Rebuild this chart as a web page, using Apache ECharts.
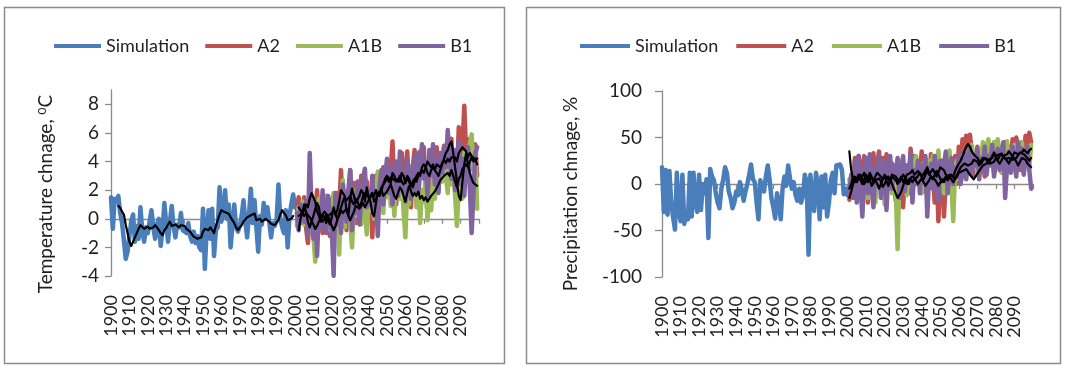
<!DOCTYPE html>
<html>
<head>
<meta charset="utf-8">
<script src="https://cdn.jsdelivr.net/npm/echarts@6/dist/echarts.min.js"></script>
<style>
  html, body { margin: 0; padding: 0; background: #ffffff; }
  #chart { width: 1066px; height: 366px; }
</style>
</head>
<body>
<div id="chart"></div>
<script>
// ---- Temperature change (°C) ----
const simTempStart = 1900;
const simTemp = [
  1.5, -0.7, 1.4, 1.2, 1.6, 0.4, -0.3, -1.5, -2.8, -2.3,
  -1.2, -0.2, 0.3, -1.6, -0.5, -1.4, 0.8, -0.8, -1.6, -0.6,
  -1.0, -0.2, 0.6, -0.6, -1.4, -0.4, 0.0, -1.9, -0.8, 1.1,
  -0.3, -1.6, -0.2, 0.9, -0.5, -1.3, -0.4, -0.6, 0.4, -0.8,
  -0.8, -1.0, -0.3, -1.2, -1.6, -0.9, -1.7, -1.2, -2.0, -2.2,
  0.7, -3.5, -0.8, 0.6, -1.4, 0.7, -2.6, -0.8, -0.6, 2.2,
  -0.2, 0.4, 2.0, 0.0, 1.0, -2.0, -0.5, 1.0, -0.6, -0.9,
  -0.5, 0.2, 1.3, -0.2, -1.3, 0.3, 2.1, -0.3, 1.3, -0.6,
  -2.3, 0.2, -0.4, 1.1, 0.0, 0.8, -0.2, -1.3, -0.3, -0.5,
  -0.1, 2.4, 0.0, -0.6, -1.0, 0.6, -2.0, 0.2, 1.0, 1.7,
  0.8
];
const simTempAvgStart = 1904;
const simTempAvg = [
  0.9, 0.75, 0.5, 0.3, -0.4, -1.0,
  -1.6, -1.9, -1.6, -1.3, -1.0, -0.7, -0.45, -0.5, -0.7, -0.6,
  -0.55, -0.7, -0.75, -0.6, -0.45, -0.6, -0.8, -1.0, -1.15, -0.8,
  -0.65, -0.4, -0.2, -0.5, -0.6, -0.4, -0.5, -0.6, -0.45, -0.35,
  -0.5, -0.7, -0.8, -0.9, -1.1, -1.25, -1.3, -1.4, -1.5, -1.3,
  -0.9, -0.7, -0.8, -0.8, -0.6, -0.8, -1.0, -0.5, -0.1, 0.3,
  0.6, 0.5, 0.45, 0.4, 0.35, 0.1, -0.1, -0.3, -0.6, -0.8,
  -0.6, -0.45, -0.2, -0.1, 0.1, 0.2, 0.25, 0.3, 0.37, -0.1,
  -0.15, 0.0, -0.2, -0.1, 0.0, -0.1, -0.2, -0.35, -0.3, -0.45,
  -0.55, -0.1, 0.3, 0.6, 0.4, 0.25, -0.1, -0.2, 0.0, 0.2
];
const scenarioStart = 2001;
const tempA2 = [
  0.6, 1.5, -0.3, 0.8, 1.5, -0.6, -1.7, 0.4, -0.8, 1.2,
  0.2, 2.0, -0.5, 0.5, -1.0, 1.0, -0.4, 0.3, -1.2, 1.4,
  0.2, -0.6, 1.8, 0.6, 3.4, 0.4, 1.9, -0.8, 1.2, 3.4,
  0.8, 2.5, -0.3, 2.2, 1.0, 3.0, 0.5, 1.8, 2.6, 0.4,
  2.0, -1.3, 1.6, 3.0, 0.6, 2.8, 1.2, 3.6, 2.0, 4.0,
  1.6, 3.4, 5.4, 2.2, 1.0, 3.8, 2.4, 4.6, 1.8, 3.2,
  4.7, 2.0, 0.8, 3.6, 4.8, 2.6, 1.2, 4.7, 3.0, 5.0,
  2.2, 0.4, 3.4, 4.6, 2.0, 3.8, 5.0, 2.8, 4.2, 3.0,
  5.1, 3.4, 2.4, 4.4, 5.6, 3.2, 4.8, 2.6, 6.4, 3.8,
  5.0, 7.9, 4.5, 3.2, 5.6, 3.5, 4.4, 5.2, 3.0
];
const tempA1B = [
  -0.5, 0.8, 0.2, 1.2, -0.4, 0.6, 1.0, -0.8, 0.4, -1.2,
  -3.0, 0.2, 1.4, -0.4, 0.8, -0.2, 1.6, 0.0, -0.8, 0.9,
  1.8, -0.4, 0.6, -2.5, 1.2, 2.7, -0.6, 0.8, 1.4, -0.2,
  -2.0, 1.0, 2.0, 0.2, 1.5, -0.4, 2.2, 0.8, -1.1, 1.8,
  0.6, 2.4, 0.0, 1.6, 3.3, 1.2, 2.6, 0.4, 3.0, 1.5,
  3.5, 0.9, 2.2, 0.2, 2.8, 4.0, 1.4, 3.0, 0.5, -1.3,
  2.4, 1.0, 3.2, 1.6, 2.6, 0.8, 3.6, -0.3, 2.0, 1.2,
  3.0, -0.1, 1.8, 0.6, 2.8, 1.4, 3.6, 2.0, 4.2, 2.6,
  5.0, 3.0, 1.8, 4.0, 2.4, 3.8, 1.6, -0.5, 2.2, 3.6,
  1.4, 4.6, 2.8, 4.0, 5.2, 5.9, 3.4, 4.8, 0.7
];
const tempB1 = [
  0.4, -0.8, 1.0, 0.2, -0.2, 1.2, -1.2, 4.6, 0.6, -1.4,
  1.0, -2.6, 0.8, -0.6, 2.0, 0.2, -1.0, 1.6, 0.4, -0.8,
  -4.0, 1.8, -0.4, 1.2, -1.0, 2.4, 0.6, -0.2, 2.0, 3.4,
  -0.8, 1.6, 0.4, 2.6, -0.4, 1.2, 2.8, 3.5, 0.8, 2.0,
  1.0, 3.0, 0.2, 1.6, -1.2, 2.4, 3.4, 1.0, 2.6, 4.2,
  1.8, 3.6, 1.0, 2.8, 4.0, 1.6, 4.7, 2.2, 3.0, 1.2,
  4.2, 2.6, 1.4, 3.8, 2.0, 4.6, 1.8, 3.4, 5.2, 2.8,
  4.0, 1.6, 4.8, 3.0, 5.2, 2.4, 4.0, 1.8, 4.6, 3.2,
  5.0, 3.6, 6.2, 4.4, 2.8, 4.8, 2.0, 3.6, 5.4, 2.4,
  4.2, 1.6, 3.8, 5.0, 2.2, -1.0, 1.8, 4.6, 5.0
];
const scenarioAvgStart = 2002;
const tempA2Avg = [
  0.8, 0.6, 0.4, 1.0, 0.5, -0.2, -0.6, -0.2, 0.2,
  0.7, 1.1, 0.8, 0.0, -0.2, 0.0, 0.3, -0.1, -0.4, 0.1,
  0.8, 0.3, 0.6, 1.2, 2.0, 1.9, 1.6, 0.6, 0.2, 1.5,
  2.1, 1.6, 1.1, 1.0, 1.6, 2.0, 1.8, 1.2, 2.2, 1.5,
  1.2, 0.4, 0.2, 1.1, 1.8, 1.7, 2.0, 2.4, 2.8, 3.0,
  2.8, 2.5, 3.2, 3.0, 2.6, 2.8, 2.6, 3.2, 3.0, 2.5,
  3.0, 2.8, 2.4, 2.2, 2.6, 3.0, 3.2, 3.0, 3.6, 3.8,
  3.6, 3.2, 3.0, 3.4, 3.6, 3.4, 3.8, 3.8, 3.6, 3.9,
  4.1, 3.9, 4.2, 4.0, 4.3, 4.4, 4.3, 4.0, 4.6, 4.8,
  5.0, 5.0, 4.7, 4.3, 4.6, 4.4, 4.2, 4.3, 4.2
];
const tempA1BAvg = [
  0.2, 0.3, 0.4, 0.2, 0.4, 0.3, 0.1, 0.0, -0.4,
  -0.7, -0.5, -0.2, 0.1, 0.2, 0.5, 0.4, 0.2, 0.3, 0.4,
  0.6, 0.3, 0.0, 0.2, 0.6, 0.4, 0.3, 0.7, 0.2, -0.1,
  0.2, 0.5, 0.9, 1.0, 0.7, 0.9, 1.1, 0.8, 0.7, 1.3,
  1.6, 1.8, 1.2, 1.4, 1.8, 1.6, 2.0, 1.6, 1.5, 1.9,
  2.0, 2.4, 2.0, 1.6, 1.4, 1.8, 2.2, 2.0, 1.6, 1.2,
  1.8, 2.3, 2.2, 1.6, 1.8, 1.6, 1.9, 1.4, 1.6, 1.3,
  1.5, 1.2, 1.3, 1.6, 1.5, 1.9, 1.8, 2.4, 2.7, 2.8,
  3.0, 2.9, 3.2, 3.0, 3.4, 3.0, 2.6, 2.2, 2.8, 3.0,
  3.5, 3.4, 3.8, 3.6, 4.0, 4.3, 4.0, 4.2, 3.8
];
const tempB1Avg = [
  -0.8, 0.0, 0.4, 0.6, 1.0, 0.8, 1.4, 1.8, 1.9,
  1.2, 0.5, 0.2, -0.2, 0.3, 0.1, -0.3, 0.2, -0.2, -0.5,
  -0.8, -0.5, -0.1, 0.4, 0.8, 1.2, 1.5, 1.3, 1.4, 1.6,
  1.2, 1.0, 1.4, 1.2, 0.8, 1.1, 1.6, 1.8, 1.6, 1.7,
  1.5, 1.8, 1.6, 2.0, 1.6, 1.8, 2.2, 2.4, 2.6, 2.8,
  2.6, 2.9, 3.0, 2.7, 2.8, 2.6, 3.0, 2.6, 2.4, 2.6,
  2.8, 2.6, 2.3, 2.6, 2.8, 2.6, 3.0, 3.2, 3.4, 3.2,
  3.6, 4.0, 3.8, 3.6, 3.8, 3.4, 3.2, 3.0, 3.4, 3.8,
  4.2, 4.6, 4.8, 5.2, 5.4, 4.6, 3.6, 2.6, 1.6, 1.3,
  2.6, 3.8, 4.6, 3.8, 3.2, 2.8, 2.5, 2.4, 2.3
];

// ---- Precipitation change (%) ----
const simPrecipStart = 1900;
const simPrecip = [
  18, -30, 15, -33, 14, -20, -36, -49, 12, -28,
  -40, 10, -43, -30, -38, 12, -35, 12, -20, -30,
  10, -28, 0, -10, 5, -58, 16, 8, 4, -10,
  -20, -26, -5, 5, 18, 12, -8, -15, -26, -20,
  -8, -12, 2, -6, -18, -8, 0, 10, 21, 5,
  2, -20, -38, 4, -4, -8, 8, 20, 5, -15,
  -25, -37, -10, -20, -38, -5, 8, -2, 20, 6,
  -5, 2, -12, -18, -5, -20, -12, 10, 2, -76,
  10, -12, -29, 12, 0, -38, 8, -25, 10, -35,
  -20, 4, 12, -10, 20, 18, 21, 15, -11, -5,
  -12
];
const precipA2 = [
  -17, 5, -10, 28, 0, 30, -5, 18, 30, 2,
  -20, 25, 8, 33, -10, 20, 35, 5, 28, -15,
  32, 10, -5, 22, 15, -18, 10, 25, 2, -25,
  20, 8, -10, 38, 15, 30, 0, 20, 10, 35,
  -8, 15, 25, 0, 32, 12, -20, 20, -40, 10,
  25, -35, 5, 18, -5, 25, 10, 30, 0, 40,
  15, 48, 30, 52, 20, 53, 35, 10, 28, 40,
  15, 35, 25, 8, 38, 20, 42, 30, 12, 45,
  28, 40, 18, 35, 45, 22, 40, 30, 48, 25,
  50, 35, 15, 45, 30, 52, 40, 55, 45
];
const precipA1B = [
  5, -10, 15, 0, 20, -5, 10, -30, 15, 5,
  -15, 20, 0, 12, -20, 8, 25, -5, 10, -22,
  15, 5, 20, -10, 12, -5, -70, 10, 25, 0,
  15, -12, 20, 5, -8, 18, 30, 0, 15, -10,
  22, 8, -5, 25, 10, 30, 0, 20, 36, 5,
  15, -10, 28, 10, 36, 0, -40, 15, 25, 5,
  20, 30, 8, 35, 15, 28, 42, 20, 35, 10,
  38, 25, 45, 15, 40, 48, 22, 35, 45, 20,
  48, 30, 12, 42, 25, 46, 18, 35, 28, 42,
  15, 38, 25, 45, 12, 30, 40, 18, 42
];
const precipB1 = [
  -8, 10, -15, 25, -20, 30, 5, -35, 15, 28,
  -10, 32, 0, -25, 18, 5, 30, -15, 10, 25,
  -28, 12, 30, -5, 20, 5, 28, -15, 10, 30,
  -8, 20, 8, 33, -20, 15, 0, 25, -10, 20,
  5, 30, -35, 10, 22, -5, 30, 15, -18, 25,
  5, 20, 35, -10, 12, 28, 0, 18, 8, 30,
  0, 15, 35, 5, 25, 40, 10, 30, 20, 38,
  5, 28, 15, 40, 10, 30, 20, 42, 8, 25,
  38, 15, 30, 45, -15, 20, 35, 12, 40, 22,
  8, 45, 20, 38, 10, 30, 40, 15, -5
];
const precipAvgStart = 2001;
const precipA2Avg = [
  35, 15, 5, 8, 3, 10, 5, 8, 12, 6,
  2, 8, 10, 4, 8, 12, 14, 8, 5, 10,
  12, 6, 2, 8, 10, 4, 0, 5, 8, 2,
  6, 10, 8, 12, 15, 10, 8, 14, 12, 8,
  10, 14, 18, 12, 8, 10, 5, 2, -2, 0,
  5, 2, 6, 8, 10, 12, 8, 14, 18, 22,
  25, 30, 35, 40, 43, 40, 35, 32, 30, 28,
  25, 22, 25, 28, 30, 26, 24, 28, 32, 30,
  26, 30, 33, 30, 28, 32, 35, 33, 30, 34,
  36, 32, 30, 34, 37, 35, 33, 36, 38
];
const precipA1BAvg = [
  -15, -8, 0, 5, 2, 6, 10, 5, 0, 3,
  8, 5, -2, 0, 4, 2, 6, 3, -3, 0,
  4, 8, 5, 0, -5, -10, -15, -12, -8, -2,
  3, 0, 5, 3, 8, 10, 6, 9, 12, 8,
  5, 10, 14, 10, 12, 16, 12, 8, 12, 18,
  20, 15, 10, 12, 8, 5, 2, 6, 10, 14,
  18, 20, 22, 24, 20, 18, 22, 26, 28, 24,
  20, 25, 28, 30, 26, 22, 26, 30, 34, 30,
  28, 32, 34, 30, 27, 25, 28, 30, 26, 24,
  28, 30, 34, 36, 32, 30, 28, 25, 28
];
const precipB1Avg = [
  -5, 0, 8, 2, 6, 10, 4, 0, 5, 10,
  6, 12, 8, 2, 5, 0, -5, 0, 5, 8,
  3, -2, 4, 10, 12, 8, 5, 2, 6, 10,
  8, 4, 0, 5, 2, 6, 4, 0, 3, 6,
  2, -2, 0, 4, 8, 5, 10, 14, 10, 6,
  2, 5, 8, 4, 6, 10, 8, 5, 8, 12,
  10, 14, 12, 16, 14, 10, 8, 5, 8, 10,
  14, 16, 20, 18, 22, 25, 22, 20, 24, 28,
  26, 22, 25, 30, 28, 25, 22, 26, 30, 28,
  24, 20, 24, 28, 30, 26, 22, 20, 18
];

// ---- Axis ticks and legend ----
const yearLabels = [1900, 1910, 1920, 1930, 1940, 1950, 1960, 1970, 1980, 1990,
                    2000, 2010, 2020, 2030, 2040, 2050, 2060, 2070, 2080, 2090];
const yearTicks = [1900, 1910, 1920, 1930, 1940, 1950, 1960, 1970, 1980, 1990,
                   2000, 2010, 2020, 2030, 2040, 2050, 2060, 2070, 2080, 2090, 2100];
const tempTicks = [-4, -2, 0, 2, 4, 6, 8];
const precipTicks = [-100, -50, 0, 50, 100];
const legendNames = ['Simulation', 'A2', 'A1B', 'B1'];

const FONT = 'Lato, "Liberation Sans", Arial, sans-serif';
const TEXT = '#1f1f1f';
const AXIS = '#8a8a8a';
const COLORS = { Simulation: '#4a7ebb', A2: '#c0504d', A1B: '#9bbb59', B1: '#8064a2' };

function pairs(start, values) {
  return values.map((v, i) => [start + i, v]);
}

function line(name, start, values, color, width, idx, z) {
  return {
    type: 'line', name: name, xAxisIndex: idx, yAxisIndex: idx,
    data: pairs(start, values), symbol: 'none', silent: true, z: z,
    lineStyle: { color: color, width: width, join: 'round', cap: 'round' },
    itemStyle: { color: color }
  };
}

function xAxis(idx) {
  return {
    type: 'value', gridIndex: idx, min: 1900, max: 2100, interval: 10,
    axisLine: { show: true, lineStyle: { color: AXIS, width: 1.3 } },
    axisTick: { show: true, length: 5, lineStyle: { color: AXIS, width: 1.3 }, customValues: yearTicks },
    axisLabel: { rotate: 90, margin: 19, fontSize: 18, fontFamily: FONT, color: TEXT,
      customValues: yearLabels, formatter: (v) => String(v) },
    splitLine: { show: false }
  };
}

function legend(left, itemWidth, itemGap, fontSize) {
  return {
    data: legendNames, left: left, top: 32, icon: 'rect',
    itemWidth: itemWidth, itemHeight: 4, itemGap: itemGap, selectedMode: false,
    textStyle: { fontSize: fontSize, fontFamily: FONT, color: TEXT }
  };
}

const chart = echarts.init(document.getElementById('chart'), null, { renderer: 'canvas' });

chart.setOption({
  animation: false,
  backgroundColor: '#ffffff',
  graphic: [
    { type: 'rect', shape: { x: 4.5, y: 7.5, width: 500, height: 356 },
      style: { fill: 'none', stroke: '#8c8c8c', lineWidth: 1.5 }, silent: true },
    { type: 'rect', shape: { x: 526.5, y: 7.5, width: 534, height: 356 },
      style: { fill: 'none', stroke: '#8c8c8c', lineWidth: 1.5 }, silent: true }
  ],
  legend: [legend(49, 47, 16, 18), legend(575, 50, 18, 18)],
  grid: [
    { left: 111, top: 90, width: 368, height: 186 },
    { left: 662, top: 91, width: 371, height: 186 }
  ],
  xAxis: [xAxis(0), xAxis(1)],
  yAxis: [
    {
      type: 'value', gridIndex: 0, min: -4, max: 9,
      name: 'Temperature chnage, {sup|0}C',
      nameLocation: 'middle', nameRotate: 90, nameGap: 56,
      nameTextStyle: { fontSize: 19, fontFamily: FONT, color: TEXT, padding: [0, 22, 0, 0],
        rich: { sup: { fontSize: 12, fontFamily: FONT, color: TEXT, verticalAlign: 'top', padding: [0, 0, 6, 0] } } },
      axisLine: { show: true, lineStyle: { color: AXIS, width: 1.3 } },
      axisTick: { show: true, length: 6, lineStyle: { color: AXIS, width: 1.3 }, customValues: tempTicks },
      axisLabel: { margin: 12, fontSize: 19, fontFamily: FONT, color: TEXT, customValues: tempTicks },
      splitLine: { show: false }
    },
    {
      type: 'value', gridIndex: 1, min: -100, max: 100, interval: 50,
      name: 'Precipitation chnage, %',
      nameLocation: 'middle', nameRotate: 90, nameGap: 82,
      nameTextStyle: { fontSize: 19, fontFamily: FONT, color: TEXT, padding: [0, 20, 0, 0] },
      axisLine: { show: true, lineStyle: { color: AXIS, width: 1.3 } },
      axisTick: { show: true, length: 7, lineStyle: { color: AXIS, width: 1.3 }, customValues: precipTicks },
      axisLabel: { margin: 20, fontSize: 19, fontFamily: FONT, color: TEXT, customValues: precipTicks },
      splitLine: { show: false }
    }
  ],
  series: [
    line('Simulation', simTempStart, simTemp, COLORS.Simulation, 4.5, 0, 2),
    line('A2', scenarioStart, tempA2, COLORS.A2, 4.5, 0, 3),
    line('A1B', scenarioStart, tempA1B, COLORS.A1B, 4.5, 0, 4),
    line('B1', scenarioStart, tempB1, COLORS.B1, 4.5, 0, 5),
    line('Simulation trend', simTempAvgStart, simTempAvg, '#000000', 2.2, 0, 6),
    line('A2 trend', scenarioAvgStart, tempA2Avg, '#000000', 2.2, 0, 6),
    line('A1B trend', scenarioAvgStart, tempA1BAvg, '#000000', 2.2, 0, 6),
    line('B1 trend', scenarioAvgStart, tempB1Avg, '#000000', 2.2, 0, 6),

    line('Simulation', simPrecipStart, simPrecip, COLORS.Simulation, 4.5, 1, 2),
    line('A2', scenarioStart, precipA2, COLORS.A2, 4.5, 1, 3),
    line('A1B', scenarioStart, precipA1B, COLORS.A1B, 4.5, 1, 4),
    line('B1', scenarioStart, precipB1, COLORS.B1, 4.5, 1, 5),
    line('A2 trend', precipAvgStart, precipA2Avg, '#000000', 2.2, 1, 6),
    line('A1B trend', precipAvgStart, precipA1BAvg, '#000000', 2.2, 1, 6),
    line('B1 trend', precipAvgStart, precipB1Avg, '#000000', 2.2, 1, 6)
  ]
});
</script>
</body>
</html>
